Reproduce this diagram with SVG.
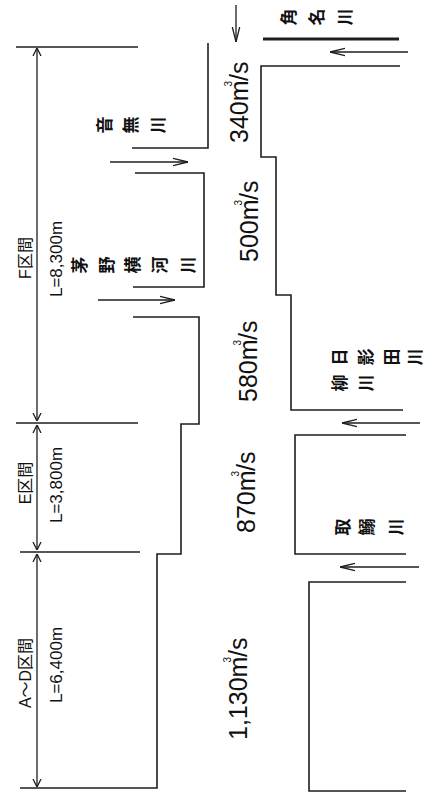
<svg xmlns="http://www.w3.org/2000/svg" width="430" height="798" viewBox="0 0 430 798">
<style>
.ln{fill:none;stroke:#1e1e1e;stroke-width:1.6}
.thick{fill:none;stroke:#1e1e1e;stroke-width:3}
.ar{fill:none;stroke:#1e1e1e;stroke-width:1.3}
.sec{font-family:"Liberation Sans","Noto Sans CJK JP",sans-serif;font-size:16px;fill:#111}
.len{font-family:"Liberation Sans",Arial,sans-serif;font-size:17px;fill:#111}
.q{font-family:"Liberation Sans",Arial,sans-serif;font-size:25px;fill:#111}
.sup{font-size:10px}
.jv{font-family:"Noto Sans CJK JP",sans-serif;font-size:17px;font-weight:bold;fill:#111;writing-mode:vertical-rl}
</style>
<defs>
<marker id="ah" viewBox="0 0 15 10" refX="15" refY="5" markerWidth="15" markerHeight="10" orient="auto" markerUnits="userSpaceOnUse">
<path d="M0,1.3 L15,5 L0,8.7" fill="none" stroke="#1e1e1e" stroke-width="1.3"/>
</marker>
<marker id="dh" viewBox="0 0 8 10" refX="8" refY="5" markerWidth="8" markerHeight="10" orient="auto-start-reverse" markerUnits="userSpaceOnUse">
<path d="M0,1 L8,5 L0,9" fill="none" stroke="#1e1e1e" stroke-width="1.3"/>
</marker>
</defs>

<g id="channel">
<path class="ln" d="M208,43 V148 H132"/>
<path class="ln" d="M135,173 H204 V287 H133"/>
<path class="ln" d="M133,317 H199 V424 H181 V554 H157 V788 H20"/>
<path class="thick" d="M263,39 H399"/>
<path class="ln" d="M400,66 H261 V157 H276 V295 H291 V410 H403"/>
<path class="ln" d="M406,435 H295 V554 H406"/>
<path class="ln" d="M406,582 H309 V791 H406"/>
</g>

<g id="dimensions">
<path class="ln" d="M16,47 H138"/>
<path class="ln" d="M16,423 H138"/>
<path class="ln" d="M20,552 H140"/>
<line class="ar" x1="37" y1="48" x2="37" y2="421" marker-start="url(#dh)" marker-end="url(#dh)"/>
<line class="ar" x1="37" y1="425" x2="37" y2="550" marker-start="url(#dh)" marker-end="url(#dh)"/>
<line class="ar" x1="37" y1="554" x2="37" y2="787" marker-start="url(#dh)" marker-end="url(#dh)"/>
</g>

<g id="connectors">
<line class="ar" x1="236" y1="5" x2="236" y2="42" marker-end="url(#ah)"/>
<line class="ar" x1="408" y1="52" x2="330" y2="52" marker-end="url(#ah)"/>
<line class="ar" x1="110" y1="162" x2="188" y2="162" marker-end="url(#ah)"/>
<line class="ar" x1="98" y1="300" x2="175" y2="300" marker-end="url(#ah)"/>
<line class="ar" x1="420" y1="423" x2="342" y2="423" marker-end="url(#ah)"/>
<line class="ar" x1="419" y1="567" x2="340" y2="567" marker-end="url(#ah)"/>
</g>

<g id="section-F">
<text class="sec" text-anchor="middle" transform="translate(31,258) rotate(-90)">F区間</text>
<text class="len" text-anchor="middle" transform="translate(62,259) rotate(-90)">L=8,300m</text>
</g>
<g id="section-E">
<text class="sec" text-anchor="middle" transform="translate(31,483) rotate(-90)">E区間</text>
<text class="len" text-anchor="middle" transform="translate(62,485) rotate(-90)">L=3,800m</text>
</g>
<g id="section-AD">
<text class="sec" text-anchor="middle" transform="translate(31,673) rotate(-90)">A～D区間</text>
<text class="len" text-anchor="middle" transform="translate(62,665) rotate(-90)">L=6,400m</text>
</g>

<g id="q340"><text class="q" transform="translate(248,143) rotate(-90)">340m<tspan class="sup" dx="-6" dy="-16">3</tspan><tspan dy="16">/s</tspan></text></g>
<g id="q500"><text class="q" transform="translate(258,262) rotate(-90)">500m<tspan class="sup" dx="-6" dy="-16">3</tspan><tspan dy="16">/s</tspan></text></g>
<g id="q580"><text class="q" transform="translate(257,402) rotate(-90)">580m<tspan class="sup" dx="-6" dy="-16">3</tspan><tspan dy="16">/s</tspan></text></g>
<g id="q870"><text class="q" transform="translate(255,533) rotate(-90)">870m<tspan class="sup" dx="-6" dy="-16">3</tspan><tspan dy="16">/s</tspan></text></g>
<g id="q1130"><text class="q" transform="translate(247,740) rotate(-90)">1,130m<tspan class="sup" dx="-6" dy="-16">3</tspan><tspan dy="16">/s</tspan></text></g>

<g id="river-tsunagawa"><text class="jv" x="0" y="0 28 56" transform="translate(280,17) rotate(-90)">角名川</text></g>
<g id="river-otonashi"><text class="jv" x="0" y="0 26.5 53" transform="translate(96,125) rotate(-90)">音無川</text></g>
<g id="river-chinoyokokawa"><text class="jv" x="0" y="0 27 53 80 108" transform="translate(71,265) rotate(-90)">茅野横河川</text></g>
<g id="river-hikageda"><text class="jv" x="0" y="0 26 52 75" transform="translate(331,357) rotate(-90)">日影田川</text></g>
<g id="river-yanagawa"><text class="jv" x="0" y="0 26" transform="translate(331,383) rotate(-90)">柳川</text></g>
<g id="river-tori"><text class="jv" x="0" y="0 24 53" transform="translate(334,527) rotate(-90)">取鰯川</text></g>
</svg>
